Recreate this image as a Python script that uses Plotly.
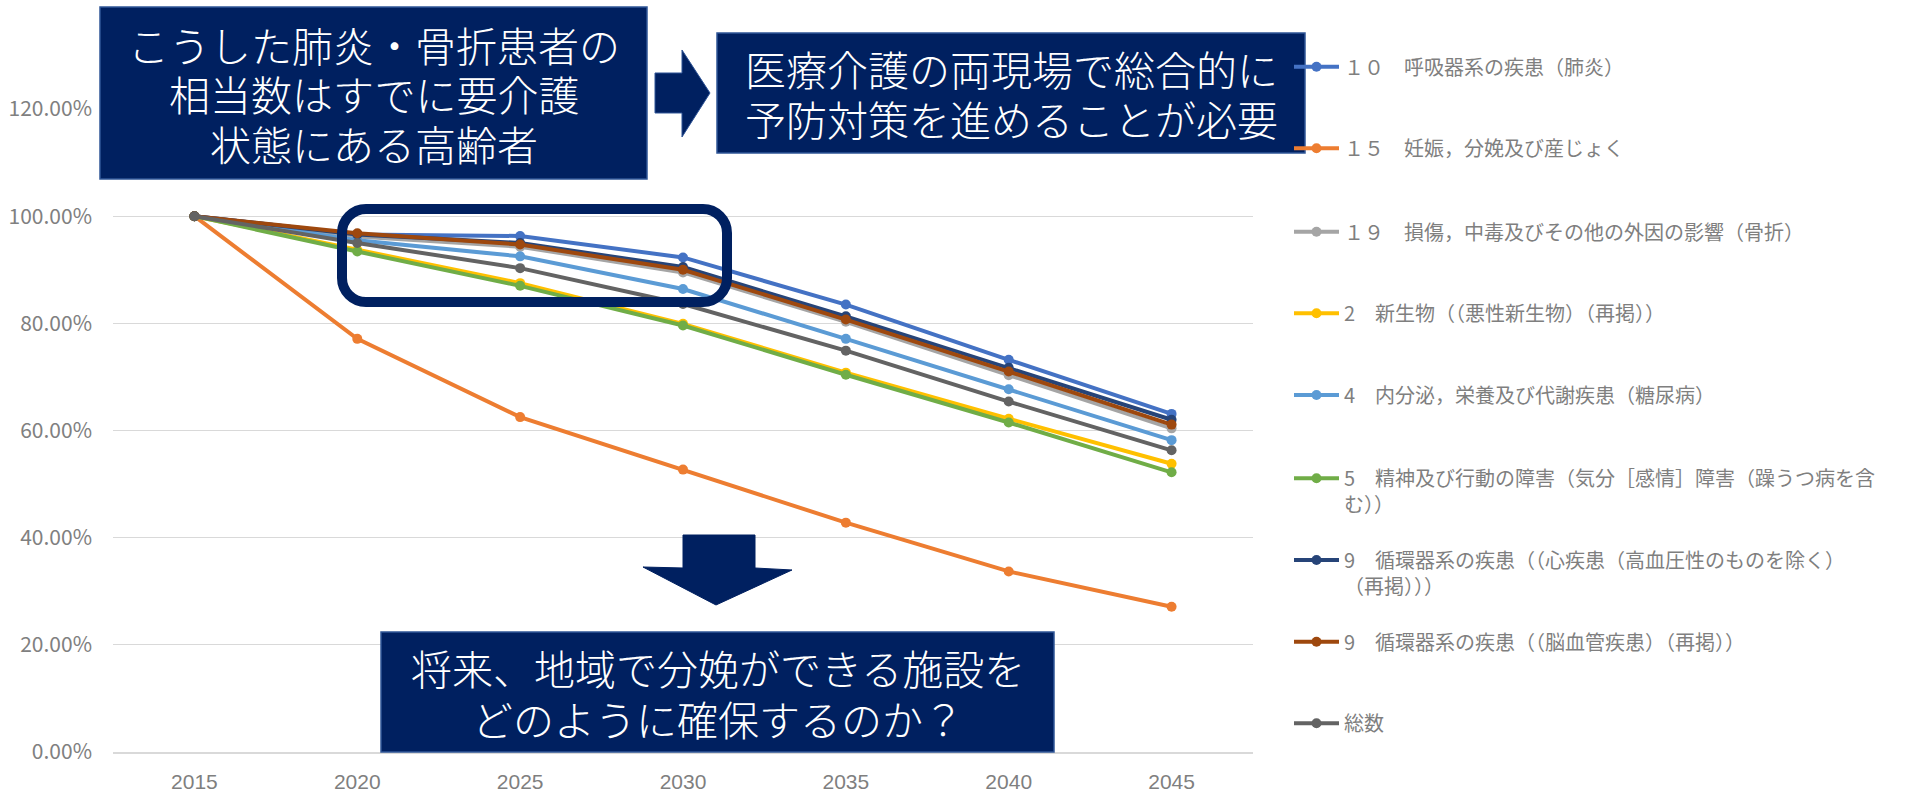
import plotly.graph_objects as go

# ---- data -------------------------------------------------------------
years = ["2015", "2020", "2025", "2030", "2035", "2040", "2045"]

names = [
    "１０　呼吸器系の疾患（肺炎）",
    "１５　妊娠，分娩及び産じょく",
    "１９　損傷，中毒及びその他の外因の影響（骨折）",
    "2　新生物（（悪性新生物）（再掲））",
    "4　内分泌，栄養及び代謝疾患（糖尿病）",
    "5　精神及び行動の障害（気分［感情］障害（躁うつ病を含<br>む））",
    "9　循環器系の疾患（（心疾患（高血圧性のものを除く）<br>（再掲）））",
    "9　循環器系の疾患（（脳血管疾患）（再掲））",
    "総数",
]

respiratory = [1.0, 0.966, 0.963, 0.923, 0.835, 0.732, 0.631]
pregnancy = [1.0, 0.771, 0.625, 0.527, 0.428, 0.337, 0.271]
injury = [1.0, 0.962, 0.943, 0.895, 0.803, 0.703, 0.604]
neoplasm = [1.0, 0.937, 0.875, 0.799, 0.708, 0.622, 0.538]
endocrine = [1.0, 0.955, 0.925, 0.864, 0.771, 0.677, 0.582]
mental = [1.0, 0.934, 0.870, 0.796, 0.704, 0.615, 0.522]
heart = [1.0, 0.966, 0.950, 0.905, 0.813, 0.717, 0.620]
cerebro = [1.0, 0.968, 0.947, 0.900, 0.807, 0.710, 0.611]
total = [1.0, 0.950, 0.903, 0.836, 0.749, 0.654, 0.563]

series = [respiratory, pregnancy, injury, neoplasm, endocrine, mental, heart, cerebro, total]
colors = ["#4472C4", "#ED7D31", "#A5A5A5", "#FFC000", "#5B9BD5",
          "#70AD47", "#264478", "#9E480E", "#636363"]

y_ticks = [0, 0.2, 0.4, 0.6, 0.8, 1.0, 1.2]

callout_top_left = ["こうした肺炎・骨折患者の", "相当数はすでに要介護", "状態にある高齢者"]
callout_top_right = ["医療介護の両現場で総合的に", "予防対策を進めることが必要"]
callout_bottom = ["将来、地域で分娩ができる施設を", "どのように確保するのか？"]

# ---- layout geometry (pixels) ------------------------------------------
W, H = 1930, 792
ML, MR, MT, MB = 113, 677, 109, 40
PW, PH = W - ML - MR, H - MT - MB


def px(x):
    return (x - ML) / PW


def py(y):
    return (H - MB - y) / PH


NAVY = "#002060"
EDGE = "#2F5597"
FONT = "Noto Sans CJK JP"

fig = go.Figure()

legend_centres = [66.7, 148.3, 231.7, 313.3, 395, 478.3, 560, 641.7, 723.3]

for i, (name, vals, col) in enumerate(zip(names, series, colors)):
    key = "legend" if i == 0 else f"legend{i + 1}"
    fig.add_trace(go.Scatter(
        x=years, y=vals, name=name, mode="lines+markers",
        line=dict(color=col, width=4),
        marker=dict(color=col, size=10),
        legend=key,
    ))
    two_line = "<br>" in name
    cy = legend_centres[i] + (13 if two_line else 0)
    fig.update_layout({key: dict(
        xref="container", yref="container",
        x=1289 / W, xanchor="left",
        y=1 - cy / H, yanchor="middle",
        valign="top",
        bgcolor="rgba(0,0,0,0)",
        font=dict(family=FONT, size=20, color="#7F7F7F"),
        itemwidth=45,
    )})

# ---- callout boxes --------------------------------------------------------
shapes = []
annotations = []


def box(x0, y0, x1, y1, lines, line_gap=50):
    shapes.append(dict(type="rect", xref="paper", yref="paper",
                       x0=px(x0), x1=px(x1), y0=py(y1), y1=py(y0),
                       fillcolor=NAVY, line=dict(color=EDGE, width=1.5)))
    cx, cy = (x0 + x1) / 2, (y0 + y1) / 2
    first = cy - line_gap * (len(lines) - 1) / 2
    for j, txt in enumerate(lines):
        annotations.append(dict(xref="paper", yref="paper",
                                x=px(cx), y=py(first + j * line_gap),
                                text=txt, showarrow=False,
                                xanchor="center", yanchor="middle",
                                font=dict(family=FONT, size=41, color="white",
                                          weight=300)))


def polygon(points, **line):
    d = "M " + " L ".join(f"{px(a):.5f},{py(b):.5f}" for a, b in points) + " Z"
    shapes.append(dict(type="path", xref="paper", yref="paper", path=d,
                       fillcolor=NAVY, line=line or dict(color=EDGE, width=1)))


box(100, 7, 647, 179, callout_top_left, line_gap=49.5)
box(717, 33, 1305, 153, callout_top_right, line_gap=50)
box(381, 632, 1054, 752, callout_bottom, line_gap=51)

# right-pointing arrow between the two upper boxes
polygon([(655, 73), (682, 73), (682, 50), (710, 93), (682, 137),
         (682, 113), (655, 113)])
# down-pointing arrow above the lower box
polygon([(683, 535), (755, 535), (755, 568), (792, 570), (716, 605),
         (643, 567), (683, 568)], color=NAVY, width=1)

# rounded highlight frame around 2020-2030
x0, y0, x1, y1, r = 342, 209, 727, 302, 24
k = 0.5523 * r


def P(a, b):
    return f"{px(a):.5f},{py(b):.5f}"


frame = (
    f"M {P(x0 + r, y0)} L {P(x1 - r, y0)} "
    f"C {P(x1 - r + k, y0)} {P(x1, y0 + r - k)} {P(x1, y0 + r)} "
    f"L {P(x1, y1 - r)} "
    f"C {P(x1, y1 - r + k)} {P(x1 - r + k, y1)} {P(x1 - r, y1)} "
    f"L {P(x0 + r, y1)} "
    f"C {P(x0 + r - k, y1)} {P(x0, y1 - r + k)} {P(x0, y1 - r)} "
    f"L {P(x0, y0 + r)} "
    f"C {P(x0, y0 + r - k)} {P(x0 + r - k, y0)} {P(x0 + r, y0)} Z"
)
shapes.append(dict(type="path", xref="paper", yref="paper", path=frame,
                   line=dict(color=NAVY, width=10)))

fig.update_layout(
    width=W, height=H,
    margin=dict(l=ML, r=MR, t=MT, b=MB, pad=0, autoexpand=False),
    paper_bgcolor="white", plot_bgcolor="white",
    font=dict(family=FONT),
    showlegend=True,
    shapes=shapes,
    annotations=annotations,
    xaxis=dict(
        type="category", range=[-0.5, 6.5], automargin=False,
        showgrid=False, showline=True, linecolor="#D9D9D9", linewidth=1.5,
        ticks="", ticklabelstandoff=10,
        tickfont=dict(family="Liberation Sans", size=21, color="#7F7F7F"),
    ),
    yaxis=dict(
        range=[0, 1.2], tickmode="array", tickvals=y_ticks,
        tickformat=".2%", automargin=False,
        showgrid=True, gridcolor="#D9D9D9", gridwidth=1.3,
        zeroline=False, showline=False,
        ticks="", ticklabelstandoff=20,
        tickfont=dict(family=FONT, size=21, color="#808080"),
    ),
)

fig.write_html("out.html")
